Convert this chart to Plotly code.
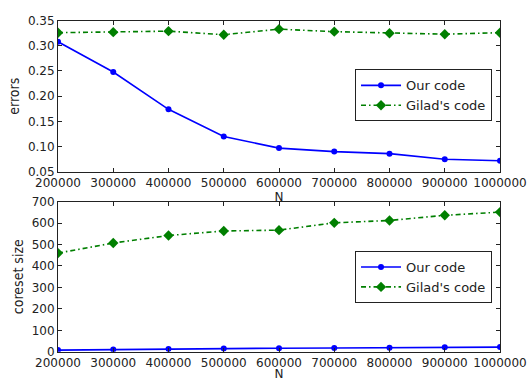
import plotly.graph_objects as go

# Problem sizes
N = [200000, 300000, 400000, 500000, 600000, 700000, 800000, 900000, 1000000]

# Errors per method
errors_ours = [0.308, 0.248, 0.174, 0.120, 0.097, 0.090, 0.086, 0.075, 0.072]
errors_gilad = [0.326, 0.327, 0.329, 0.322, 0.333, 0.328, 0.325, 0.323, 0.326]

# Coreset sizes per method
size_ours = [8, 11, 13, 15, 17, 18, 19, 21, 22]
size_gilad = [460, 507, 542, 563, 567, 601, 612, 636, 651]

x_ticks = list(range(200000, 1000001, 100000))

BLUE = "#0000ff"
GREEN = "#007f00"
FONT = "DejaVu Sans"
NARROW = "DejaVu Sans Condensed, Liberation Sans, sans-serif"
DASHDOT = "5px,3px,1.5px,3px"

fig = go.Figure()

def add_pair(ours, gilad, xa, ya, leg):
    fig.add_trace(go.Scatter(
        x=N, y=ours, xaxis=xa, yaxis=ya, legend=leg, name="Our code",
        mode="lines+markers", line=dict(color=BLUE, width=1.6),
        marker=dict(symbol="circle", size=6, color=BLUE)))
    fig.add_trace(go.Scatter(
        x=N, y=gilad, xaxis=xa, yaxis=ya, legend=leg, name="Gilad's code",
        mode="lines+markers", line=dict(color=GREEN, width=1.6, dash=DASHDOT),
        marker=dict(symbol="diamond", size=8, color=GREEN)))

add_pair(errors_ours, errors_gilad, "x", "y", "legend")
add_pair(size_ours, size_gilad, "x2", "y2", "legend2")

axis_common = dict(
    showgrid=False, zeroline=False, showline=True, linecolor="#222",
    linewidth=1, mirror="ticks", ticks="inside", ticklen=4, tickcolor="#222",
    tickfont=dict(family=FONT, size=12, color="#222"),
)

xcommon = dict(axis_common, range=[200000, 1000000], tickvals=x_ticks,
               ticktext=[str(v) for v in x_ticks],
               title=dict(text="N", font=dict(family=FONT, size=12, color="#222"),
                          standoff=2))

legend_common = dict(xanchor="left", yanchor="top",
                     bordercolor="#222", borderwidth=1, bgcolor="white",
                     font=dict(family=FONT, size=13, color="#222"),
                     tracegroupgap=0, itemwidth=40)

fig.update_layout(
    width=527, height=381,
    margin=dict(l=58, r=27, t=0, b=0),
    paper_bgcolor="white", plot_bgcolor="white",
    showlegend=True,
    xaxis=dict(xcommon, domain=[0, 1], anchor="y"),
    yaxis=dict(axis_common, domain=[0.551, 0.963], anchor="x",
               range=[0.05, 0.35], dtick=0.05, tickformat=".2f",
               title=dict(text="errors", font=dict(family=NARROW, size=14, color="#222"),
                          standoff=4)),
    xaxis2=dict(xcommon, domain=[0, 1], anchor="y2"),
    yaxis2=dict(axis_common, domain=[0.0604, 0.4698], anchor="x2",
                range=[0, 700], dtick=100,
                title=dict(text="coreset size", font=dict(family=NARROW, size=14, color="#222"),
                           standoff=4)),
    legend=dict(legend_common, x=0.672, y=0.830),
    legend2=dict(legend_common, x=0.672, y=0.335),
)

fig.write_html("out.html")
